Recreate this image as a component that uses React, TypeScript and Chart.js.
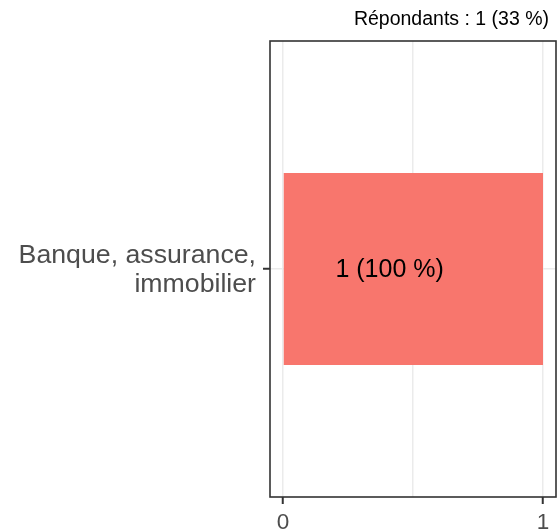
import React, { useEffect, useRef } from "react";
import { Chart, registerables } from "chart.js";

Chart.register(...registerables);

const categories: string[][] = [["Banque, assurance,", "immobilier"]];
const counts: number[] = [1];
const percents: number[] = [100];
const respondents = 1;
const respondentsPct = 33;
const xTickValues: number[] = [0, 0.5, 1];
const xTickLabels: Record<string, string> = { "0": "0", "1": "1" };

const FONT = "'Liberation Sans', Arial, Helvetica, sans-serif";

export default function App() {
  const ref = useRef<HTMLCanvasElement | null>(null);

  useEffect(() => {
    document.body.style.margin = "0";
    const canvas = ref.current;
    if (!canvas) return;

    const overlay = {
      id: "overlay",
      afterDatasetsDraw(chart: any) {
        const { ctx, chartArea, scales } = chart;
        ctx.save();
        const meta = chart.getDatasetMeta(0);
        ctx.fillStyle = "#000000";
        ctx.font = `25px ${FONT}`;
        ctx.textAlign = "center";
        ctx.textBaseline = "middle";
        meta.data.forEach((bar: any, i: number) => {
          const x = scales.x.getPixelForValue(counts[i] * 0.41);
          ctx.fillText(`${counts[i]} (${percents[i]} %)`, x, bar.y + 1);
        });
        ctx.strokeStyle = "#333333";
        ctx.lineWidth = 1.6;
        ctx.strokeRect(
          chartArea.left,
          chartArea.top,
          chartArea.right - chartArea.left,
          chartArea.bottom - chartArea.top
        );
        ctx.restore();
      },
      afterDraw(chart: any) {
        const { ctx } = chart;
        ctx.save();
        ctx.fillStyle = "#000000";
        ctx.font = `19.5px ${FONT}`;
        ctx.textAlign = "right";
        ctx.textBaseline = "alphabetic";
        ctx.fillText(`Répondants : ${respondents} (${respondentsPct} %)`, 549, 25);
        ctx.restore();
      },
    };

    const chart = new Chart(canvas, {
      type: "bar",
      data: {
        labels: categories as any,
        datasets: [
          {
            data: counts,
            backgroundColor: "#F8766D",
            borderWidth: 0,
            barPercentage: 0.421,
            categoryPercentage: 1,
          },
        ],
      },
      options: {
        indexAxis: "y",
        responsive: false,
        animation: false,
        layout: { padding: { left: 0, right: 1, top: 41, bottom: 0 } },
        plugins: {
          legend: { display: false },
          tooltip: { enabled: false },
          title: { display: false },
        },
        scales: {
          x: {
            type: "linear",
            min: -0.05,
            max: 1.05,
            afterBuildTicks(scale: any) {
              scale.ticks = xTickValues.map((v) => ({ value: v }));
            },
            afterFit(scale: any) {
              scale.height = 33;
              scale.paddingLeft = 0;
              scale.paddingRight = 0;
            },
            border: { display: false },
            grid: {
              color: "#EBEBEB",
              lineWidth: 1.5,
              drawTicks: true,
              tickLength: 7,
              tickWidth: 2,
              tickColor: (c: any) =>
                c.tick && xTickLabels[String(c.tick.value)] !== undefined
                  ? "#333333"
                  : "rgba(0,0,0,0)",
            },
            ticks: {
              autoSkip: false,
              maxRotation: 0,
              color: "#4D4D4D",
              font: { family: FONT, size: 22.5 },
              padding: 5,
              callback: (v: any) => xTickLabels[String(v)] ?? "",
            },
          },
          y: {
            type: "category",
            offset: true,
            afterFit(scale: any) {
              scale.width = 270;
              scale.paddingTop = 0;
              scale.paddingBottom = 0;
            },
            border: { display: false },
            grid: {
              offset: false,
              color: "#EBEBEB",
              lineWidth: 1.5,
              drawTicks: true,
              tickLength: 7,
              tickWidth: 2,
              tickColor: "#333333",
            },
            ticks: {
              color: "#4D4D4D",
              font: { family: FONT, size: 26.7, lineHeight: 1.086 },
              padding: 7,
              labelOffset: 1.5,
            },
          },
        },
      },
      plugins: [overlay],
    });

    return () => chart.destroy();
  }, []);

  return (
    <div style={{ position: "absolute", left: 0, top: 0, width: 557, height: 530 }}>
      <canvas ref={ref} width={557} height={530} />
    </div>
  );
}
